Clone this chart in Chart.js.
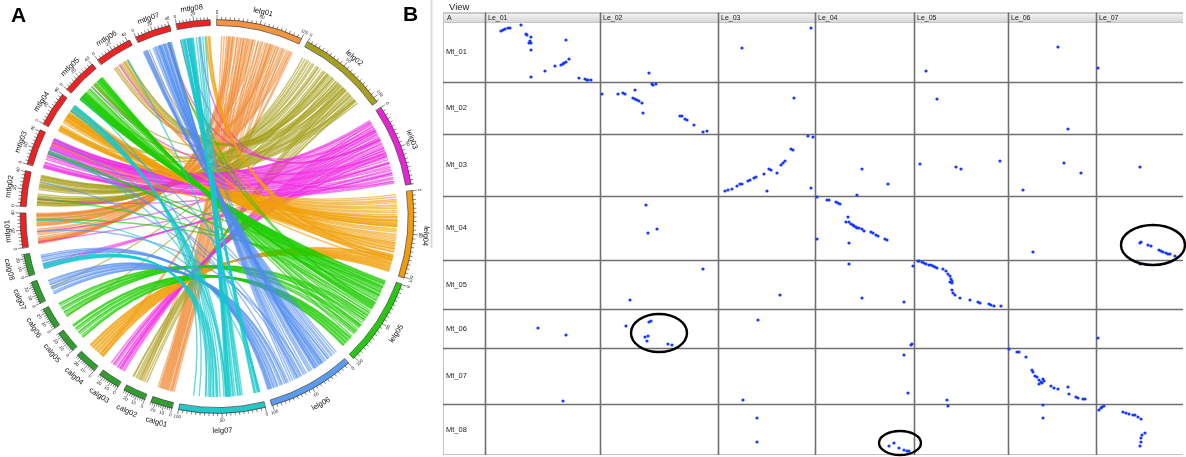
<!DOCTYPE html>
<html>
<head>
<meta charset="utf-8">
<script src="https://cdn.jsdelivr.net/npm/chart.js@4.4.1/dist/chart.umd.min.js"></script>
<style>
  html, body { margin: 0; padding: 0; background: #fff; }
  #wrap { position: relative; width: 1186px; height: 457px; overflow: hidden; }
  #panelA { position: absolute; left: 0; top: 0; width: 430px; height: 457px; }
  #panelB { position: absolute; left: 430px; top: 0; width: 756px; height: 457px; }
</style>
</head>
<body>
<div id="wrap">
  <div id="panelA"><canvas id="circos"></canvas></div>
  <div id="panelB"><canvas id="dotplot"></canvas></div>
</div>
<script>
/* -----------------------------------------------------
   PANEL A DATA : karyotype (clockwise from 12 o'clock)
----------------------------------------------------- */
const chrNames = [
  "lelg01", "lelg02", "lelg03", "lelg04", "lelg05", "lelg06", "lelg07",
  "calg01", "calg02", "calg03", "calg04", "calg05", "calg06", "calg07", "calg08",
  "mtlg01", "mtlg02", "mtlg03", "mtlg04", "mtlg05", "mtlg06", "mtlg07", "mtlg08"
];
const chrLengths = [
  100, 106, 95, 101, 102, 101, 100,
  25, 26, 25, 26, 25, 25, 26, 25,
  40, 41, 42, 40, 41, 43, 41, 39
];

// links: [position on lelg, target chromosome, position on target]
const linksLelg01 = [
  [14, "mtlg01", 4], [17, "mtlg01", 5], [20, "mtlg01", 5], [22, "mtlg01", 4], [31, "mtlg01", 2],
  [36, "mtlg01", 8], [38, "mtlg01", 10], [40, "mtlg01", 13], [41, "mtlg01", 18], [52, "mtlg01", 33],
  [61, "mtlg01", 29], [66, "mtlg01", 27], [68, "mtlg01", 26], [70, "mtlg01", 25], [73, "mtlg01", 24],
  [82, "mtlg01", 37], [87, "mtlg01", 38], [90, "mtlg01", 38], [92, "mtlg01", 39],
  [16, "mtlg01", 6], [19, "mtlg01", 3], [26, "mtlg01", 3], [34, "mtlg01", 7], [43, "mtlg01", 15],
  [45, "mtlg01", 20], [57, "mtlg01", 31], [64, "mtlg01", 28], [76, "mtlg01", 35], [79, "mtlg01", 36],
  [84, "mtlg01", 37], [94, "mtlg01", 40],
  [6, "calg01", 23], [9, "calg01", 21], [12, "calg01", 20], [25, "calg01", 17], [28, "calg01", 16],
  [45, "calg01", 13], [48, "calg01", 12], [55, "calg01", 10], [58, "calg01", 9], [63, "calg01", 7],
  [75, "calg01", 5], [78, "calg01", 4], [85, "calg01", 2],
  [15, "calg01", 19], [20, "calg01", 18], [33, "calg01", 15], [38, "calg01", 14], [52, "calg01", 11],
  [68, "calg01", 6],
  [95, "calg04", 3], [97, "calg04", 6], [46, "mtlg06", 12], [71, "mtlg06", 17], [68, "mtlg07", 35],
  [30, "calg02", 10], [34, "calg02", 14]
];
const linksLelg02 = [
  [4, "mtlg02", 2], [10, "mtlg02", 4], [15, "mtlg02", 6], [20, "mtlg02", 7], [24, "mtlg02", 9],
  [30, "mtlg02", 10], [34, "mtlg02", 12], [40, "mtlg02", 14], [55, "mtlg02", 22], [58, "mtlg02", 24],
  [62, "mtlg02", 26], [66, "mtlg02", 27], [70, "mtlg02", 29], [72, "mtlg02", 31], [75, "mtlg02", 33],
  [78, "mtlg02", 34], [82, "mtlg02", 36], [86, "mtlg02", 38], [90, "mtlg02", 39], [93, "mtlg02", 40],
  [7, "mtlg02", 3], [12, "mtlg02", 5], [18, "mtlg02", 6], [27, "mtlg02", 9], [37, "mtlg02", 13],
  [44, "mtlg02", 16], [60, "mtlg02", 25], [68, "mtlg02", 28], [80, "mtlg02", 35], [88, "mtlg02", 38],
  [46, "mtlg06", 10], [48, "mtlg06", 14], [60, "mtlg06", 20], [63, "mtlg06", 25], [68, "mtlg06", 30],
  [50, "mtlg06", 22], [55, "mtlg06", 27], [58, "mtlg06", 29],
  [64, "calg02", 5], [67, "calg02", 8], [70, "calg02", 12], [80, "calg02", 16], [84, "calg02", 20],
  [88, "calg02", 23], [72, "calg02", 14], [76, "calg02", 18], [90, "calg02", 24],
  [52, "calg06", 3], [36, "calg07", 12],
  [42, "mtlg01", 33], [40, "mtlg04", 6], [42, "mtlg04", 25], [49, "mtlg04", 22], [26, "mtlg05", 26],
  [88, "mtlg05", 6]
];
const linksLelg03 = [
  [6, "mtlg03", 40], [9, "mtlg03", 39], [12, "mtlg03", 38], [17, "mtlg03", 36], [20, "mtlg03", 35],
  [25, "mtlg03", 34], [28, "mtlg03", 33], [33, "mtlg03", 31], [36, "mtlg03", 30], [41, "mtlg03", 28],
  [45, "mtlg03", 26], [48, "mtlg03", 25], [53, "mtlg03", 21], [57, "mtlg03", 20], [60, "mtlg03", 19],
  [63, "mtlg03", 17], [68, "mtlg03", 14], [70, "mtlg03", 12], [74, "mtlg03", 8], [80, "mtlg03", 5],
  [85, "mtlg03", 3], [90, "mtlg03", 1],
  [8, "mtlg03", 39], [15, "mtlg03", 37], [23, "mtlg03", 34], [31, "mtlg03", 32], [39, "mtlg03", 29],
  [43, "mtlg03", 27], [51, "mtlg03", 23], [55, "mtlg03", 20], [65, "mtlg03", 16], [77, "mtlg03", 7],
  [83, "mtlg03", 4], [88, "mtlg03", 2],
  [10, "calg03", 3], [14, "calg03", 5], [22, "calg03", 8], [30, "calg03", 10], [38, "calg03", 13],
  [44, "calg03", 16], [50, "calg03", 19], [55, "calg03", 22], [18, "calg03", 7], [26, "calg03", 9],
  [34, "calg03", 12], [47, "calg03", 18],
  [64, "calg08", 3], [72, "calg08", 6], [78, "calg08", 9], [88, "mtlg06", 18],
  [20, "mtlg01", 17], [78, "mtlg01", 4], [65, "mtlg02", 10], [52, "mtlg05", 23], [21, "mtlg07", 35],
  [33, "mtlg08", 9], [34, "mtlg08", 25]
];
const linksLelg04 = [
  [2, "mtlg04", 1], [8, "mtlg04", 3], [12, "mtlg04", 4], [15, "mtlg04", 5], [19, "mtlg04", 6],
  [22, "mtlg04", 7], [27, "mtlg04", 13], [29, "mtlg04", 16], [31, "mtlg04", 17], [33, "mtlg04", 18],
  [35, "mtlg04", 19], [37, "mtlg04", 20], [39, "mtlg04", 21], [42, "mtlg04", 22], [45, "mtlg04", 23],
  [49, "mtlg04", 24], [52, "mtlg04", 25], [56, "mtlg04", 26], [60, "mtlg04", 28], [63, "mtlg04", 30],
  [66, "mtlg04", 31], [70, "mtlg04", 33], [74, "mtlg04", 35], [78, "mtlg04", 37],
  [5, "mtlg04", 2], [10, "mtlg04", 3], [17, "mtlg04", 6], [24, "mtlg04", 9], [30, "mtlg04", 15],
  [34, "mtlg04", 18], [38, "mtlg04", 21], [41, "mtlg04", 22], [47, "mtlg04", 23], [54, "mtlg04", 26],
  [58, "mtlg04", 27], [64, "mtlg04", 30], [68, "mtlg04", 32], [72, "mtlg04", 34],
  [80, "calg04", 2], [82, "calg04", 4], [84, "calg04", 6], [86, "calg04", 8], [88, "calg04", 10],
  [90, "calg04", 12], [91, "calg04", 14], [93, "calg04", 16], [94, "calg04", 18], [96, "calg04", 20],
  [97, "calg04", 22], [99, "calg04", 24], [81, "calg04", 3], [85, "calg04", 7], [89, "calg04", 11],
  [92, "calg04", 15], [95, "calg04", 19], [98, "calg04", 23],
  [66, "mtlg08", 33], [70, "mtlg08", 34], [74, "mtlg08", 36], [78, "mtlg08", 37], [80, "mtlg08", 38],
  [40, "mtlg03", 22], [62, "mtlg03", 33], [35, "mtlg05", 3], [42, "mtlg05", 27], [80, "mtlg05", 29],
  [88, "mtlg05", 4], [83, "mtlg06", 24], [84, "mtlg06", 25], [80, "mtlg07", 6], [83, "mtlg07", 33]
];
const linksLelg05 = [
  [3, "mtlg05", 1], [5, "mtlg05", 2], [8, "mtlg05", 3], [10, "mtlg05", 4], [12, "mtlg05", 5],
  [15, "mtlg05", 6], [17, "mtlg05", 7], [19, "mtlg05", 8], [21, "mtlg05", 9], [23, "mtlg05", 10],
  [27, "mtlg05", 11], [30, "mtlg05", 12], [33, "mtlg05", 14], [35, "mtlg05", 16], [37, "mtlg05", 19],
  [38, "mtlg05", 22], [39, "mtlg05", 26], [41, "mtlg05", 29], [45, "mtlg05", 31], [52, "mtlg05", 33],
  [58, "mtlg05", 35], [63, "mtlg05", 36], [68, "mtlg05", 37], [73, "mtlg05", 38], [78, "mtlg05", 39],
  [84, "mtlg05", 40],
  [4, "mtlg05", 1], [7, "mtlg05", 2], [11, "mtlg05", 4], [14, "mtlg05", 5], [18, "mtlg05", 7],
  [22, "mtlg05", 9], [25, "mtlg05", 10], [29, "mtlg05", 12], [36, "mtlg05", 18], [40, "mtlg05", 28],
  [48, "mtlg05", 32], [55, "mtlg05", 34], [66, "mtlg05", 36], [76, "mtlg05", 38],
  [86, "calg05", 3], [88, "calg05", 6], [90, "calg05", 9], [92, "calg05", 12], [94, "calg05", 15],
  [96, "calg05", 18], [98, "calg05", 21], [100, "calg05", 23], [87, "calg05", 4], [91, "calg05", 11],
  [95, "calg05", 17], [99, "calg05", 22],
  [50, "calg06", 4], [55, "calg06", 7], [60, "calg06", 10], [66, "calg06", 13], [70, "calg06", 16],
  [75, "calg06", 19], [80, "calg06", 22], [52, "calg06", 5], [58, "calg06", 9], [68, "calg06", 15],
  [78, "calg06", 21],
  [12, "mtlg01", 32], [23, "mtlg02", 11], [6, "mtlg03", 19], [42, "mtlg03", 21], [47, "mtlg03", 23],
  [33, "mtlg07", 35], [34, "mtlg08", 1]
];
const linksLelg06 = [
  [2, "mtlg07", 1], [8, "mtlg07", 3], [10, "mtlg07", 4], [16, "mtlg07", 6], [21, "mtlg07", 14],
  [23, "mtlg07", 16], [25, "mtlg07", 18], [27, "mtlg07", 20], [29, "mtlg07", 22], [31, "mtlg07", 23],
  [33, "mtlg07", 24], [37, "mtlg07", 26], [40, "mtlg07", 28], [44, "mtlg07", 29], [52, "mtlg07", 31],
  [55, "mtlg07", 33], [60, "mtlg07", 35], [64, "mtlg07", 36], [67, "mtlg07", 37], [70, "mtlg07", 38],
  [5, "mtlg07", 2], [13, "mtlg07", 5], [19, "mtlg07", 9], [24, "mtlg07", 17], [28, "mtlg07", 21],
  [32, "mtlg07", 23], [35, "mtlg07", 25], [42, "mtlg07", 28], [48, "mtlg07", 30], [58, "mtlg07", 34],
  [62, "mtlg07", 35],
  [75, "calg07", 3], [78, "calg07", 6], [81, "calg07", 9], [84, "calg07", 12], [87, "calg07", 15],
  [90, "calg07", 18], [93, "calg07", 21], [76, "calg07", 4], [82, "calg07", 10], [88, "calg07", 16],
  [92, "calg07", 20],
  [95, "calg08", 12], [97, "calg08", 15], [99, "calg08", 18], [96, "calg08", 13], [98, "calg08", 17],
  [100, "calg08", 20],
  [50, "mtlg01", 17], [60, "mtlg02", 31], [15, "mtlg03", 38], [56, "mtlg03", 20], [73, "mtlg03", 26],
  [25, "mtlg04", 37], [35, "mtlg08", 1], [35, "mtlg08", 9]
];
const linksLelg07 = [
  [3, "mtlg08", 4], [5, "mtlg08", 5], [7, "mtlg08", 6], [9, "mtlg08", 7], [24, "mtlg08", 10],
  [27, "mtlg08", 11], [30, "mtlg08", 12], [33, "mtlg08", 13], [35, "mtlg08", 14], [38, "mtlg08", 15],
  [41, "mtlg08", 17], [44, "mtlg08", 24], [42, "mtlg08", 26], [41, "mtlg08", 29], [40, "mtlg08", 32],
  [4, "mtlg08", 3], [8, "mtlg08", 6], [26, "mtlg08", 10], [29, "mtlg08", 12], [36, "mtlg08", 14],
  [39, "mtlg08", 16], [43, "mtlg08", 21],
  [55, "calg08", 3], [60, "calg08", 5], [65, "calg08", 7], [70, "calg08", 9], [57, "calg08", 4],
  [62, "calg08", 6], [67, "calg08", 8],
  [45, "mtlg04", 30], [47, "mtlg04", 31], [52, "mtlg04", 32], [56, "mtlg04", 34], [60, "mtlg04", 35],
  [64, "mtlg04", 36], [70, "mtlg04", 37], [78, "mtlg04", 38], [85, "mtlg04", 39],
  [2, "mtlg01", 31], [44, "mtlg03", 22], [44, "mtlg05", 3], [2, "mtlg06", 30]
];

/* -----------------------------------------------------
   PANEL B DATA : dot plot (Le on x, Mt on y)
----------------------------------------------------- */
const leNames = ["Le_01", "Le_02", "Le_03", "Le_04", "Le_05", "Le_06", "Le_07"];
const leLengths = [115, 118, 97, 99, 94, 88, 87];
const mtNames = ["Mt_01", "Mt_02", "Mt_03", "Mt_04", "Mt_05", "Mt_06", "Mt_07", "Mt_08"];
const mtLengths = [60, 52, 62, 64, 49, 39, 56, 51];

// [Le chromosome number, position on Le, position on Mt]
const mt01Dots = [
  [1, 16, 9], [1, 18, 8], [1, 20, 7], [1, 23, 6], [1, 25, 6], [1, 36, 3], [1, 41, 12], [1, 42, 13],
  [1, 46, 15], [1, 45, 19], [1, 44, 21], [1, 46, 21], [1, 46, 28], [1, 81, 18], [1, 84, 37], [1, 81, 40],
  [1, 79, 41], [1, 78, 42], [1, 76, 43], [1, 70, 44], [1, 60, 49], [1, 46, 55], [1, 94, 56], [1, 100, 57],
  [1, 102, 58], [1, 103, 58], [1, 106, 58],
  [2, 49, 51], [3, 24, 26], [3, 93, 6], [5, 12, 49], [6, 50, 25], [7, 2, 46]
];
const mt02Dots = [
  [2, 52, 2], [2, 53, 3], [2, 56, 2], [2, 2, 12], [2, 18, 12], [2, 23, 11], [2, 25, 12], [2, 35, 8],
  [2, 33, 16], [2, 35, 17], [2, 37, 18], [2, 39, 19], [2, 42, 21], [2, 43, 31], [2, 80, 34], [2, 82, 34],
  [2, 85, 37], [2, 87, 38], [2, 94, 43], [2, 103, 50], [2, 107, 49],
  [3, 76, 16], [5, 23, 17], [6, 60, 47]
];
const mt03Dots = [
  [3, 90, 2], [3, 95, 3], [3, 73, 15], [3, 75, 16], [3, 67, 27], [3, 65, 29], [3, 63, 31], [3, 59, 39],
  [3, 51, 35], [3, 53, 36], [3, 46, 40], [3, 38, 43], [3, 36, 44], [3, 32, 46], [3, 30, 47], [3, 24, 50],
  [3, 22, 50], [3, 19, 52], [3, 14, 55], [3, 10, 56], [3, 7, 57], [3, 49, 57], [3, 93, 54],
  [4, 47, 35], [4, 73, 50], [4, 42, 61],
  [5, 6, 30], [5, 42, 33], [5, 47, 35], [5, 86, 27],
  [6, 15, 56], [6, 56, 29], [6, 73, 39], [7, 44, 33]
];
const mt04Dots = [
  [2, 46, 9], [2, 48, 37], [2, 57, 33],
  [4, 2, 1], [4, 12, 4], [4, 14, 4], [4, 21, 6], [4, 23, 7], [4, 25, 8], [4, 33, 21], [4, 31, 26],
  [4, 34, 26], [4, 36, 28], [4, 38, 29], [4, 39, 30], [4, 41, 31], [4, 42, 32], [4, 44, 32], [4, 47, 33],
  [4, 49, 35], [4, 56, 36], [4, 58, 37], [4, 61, 39], [4, 63, 40], [4, 70, 43], [4, 72, 44], [4, 2, 43],
  [4, 34, 47],
  [6, 25, 56],
  [7, 44, 47], [7, 45, 46], [7, 52, 49], [7, 55, 50], [7, 63, 54], [7, 65, 55], [7, 67, 56], [7, 70, 57],
  [7, 72, 58], [7, 74, 58], [7, 79, 60]
];
const mt05Dots = [
  [2, 103, 9], [2, 30, 40], [3, 62, 35],
  [4, 34, 4], [4, 47, 38], [4, 89, 42], [4, 98, 6],
  [5, 4, 1], [5, 5, 1], [5, 8, 2], [5, 10, 3], [5, 12, 4], [5, 15, 5], [5, 17, 5], [5, 19, 6],
  [5, 21, 7], [5, 23, 8], [5, 29, 9], [5, 32, 11], [5, 34, 14], [5, 36, 16], [5, 37, 19], [5, 38, 21],
  [5, 36, 22], [5, 38, 23], [5, 38, 30], [5, 39, 33], [5, 41, 35], [5, 46, 38], [5, 56, 40], [5, 64, 42],
  [5, 66, 43], [5, 75, 44], [5, 77, 45], [5, 80, 46], [5, 87, 46],
  [7, 44, 4]
];
const mt06Dots = [
  [1, 53, 19], [1, 81, 26],
  [2, 26, 17], [2, 49, 13], [2, 51, 12], [2, 45, 28], [2, 48, 27], [2, 47, 32], [2, 68, 35], [2, 72, 36],
  [3, 40, 11], [4, 97, 35], [4, 96, 36], [7, 2, 29]
];
const mt07Dots = [
  [1, 78, 53], [3, 25, 52], [4, 89, 7], [4, 93, 45], [5, 33, 52],
  [6, 1, 1], [6, 9, 4], [6, 11, 4], [6, 18, 9], [6, 24, 22], [6, 25, 24], [6, 27, 28], [6, 29, 29],
  [6, 31, 32], [6, 33, 34], [6, 35, 31], [6, 34, 35], [6, 31, 36], [6, 36, 33], [6, 43, 38], [6, 46, 40],
  [6, 50, 41], [6, 60, 39], [6, 61, 46], [6, 68, 49], [6, 70, 50], [6, 75, 51], [6, 77, 51]
];
const mt08Dots = [
  [3, 39, 14], [3, 39, 38],
  [4, 74, 42], [4, 79, 39], [4, 84, 44], [4, 89, 46], [4, 92, 47], [4, 94, 47],
  [5, 34, 2], [6, 35, 1], [6, 35, 14],
  [7, 3, 6], [7, 5, 4], [7, 6, 3], [7, 8, 2], [7, 27, 8], [7, 30, 9], [7, 33, 10], [7, 37, 11],
  [7, 39, 11], [7, 42, 13], [7, 45, 15], [7, 49, 29], [7, 46, 31], [7, 45, 34], [7, 45, 38], [7, 44, 42]
];

// circled regions: [Le chromosome, Le position, Mt chromosome, Mt position, half width, half height]
const circledRegions = [
  [7, 57, 4, 49, 32, 20],
  [2, 59, 6, 24, 28, 19],
  [4, 85, 8, 39, 21, 12]
];

/* -----------------------------------------------------
   STYLE
----------------------------------------------------- */
const chrColors = {
  lelg01: "#f5943e", lelg02: "#a89f1f", lelg03: "#e822d6", lelg04: "#f39c0a",
  lelg05: "#25c90e", lelg06: "#5c9cf0", lelg07: "#22c9c9"
};
const linkColors = {
  lelg01: "rgba(240,140,55,0.6)", lelg02: "rgba(165,158,25,0.6)", lelg03: "rgba(240,40,225,0.6)",
  lelg04: "rgba(240,160,10,0.62)", lelg05: "rgba(30,205,0,0.64)", lelg06: "rgba(80,140,240,0.58)",
  lelg07: "rgba(20,200,205,0.66)"
};
const ringColorFor = name =>
  chrColors[name] || (name.startsWith("calg") ? "#2f9e2f" : "#ee2222");

const GAP_DEG = 2;
const R_LINK = 0.928, R_IN = 0.985, R_OUT = 1.015;
const CX = 217, CY = 216.5, R_PX = 194, A_W = 430, A_H = 457;
const FONT = "'Liberation Sans', Arial, sans-serif";

const totalLen = chrLengths.reduce((a, b) => a + b, 0);
const degPerUnit = (360 - GAP_DEG * chrNames.length) / totalLen;
const chrStart = {};
const chrLen = {};
let acc = 0;
chrNames.forEach((n, i) => {
  chrStart[n] = acc;
  chrLen[n] = chrLengths[i];
  acc += chrLengths[i] * degPerUnit + GAP_DEG;
});
const angleOf = (name, pos) => chrStart[name] + pos * degPerUnit;

function tickSpec(name) {
  if (name.startsWith("lelg")) return { minor: 5, major: 50 };
  if (name.startsWith("mtlg")) return { minor: 4, major: 20 };
  return { minor: 2.5, major: 10 };
}

/* -----------------------------------------------------
   CIRCOS PLUGIN
----------------------------------------------------- */
const circosPlugin = {
  id: "circos",
  afterDraw(chart) {
    const { ctx, scales: { x, y } } = chart;
    const pt = (deg, r) => {
      const a = deg * Math.PI / 180;
      return [x.getPixelForValue(r * Math.sin(a)), y.getPixelForValue(r * Math.cos(a))];
    };
    const [cx, cy] = pt(0, 0);
    const unitPx = x.getPixelForValue(1) - x.getPixelForValue(0);
    const canvasAng = deg => (deg - 90) * Math.PI / 180;

    ctx.save();

    // links
    const linkSets = [
      ["lelg01", linksLelg01], ["lelg02", linksLelg02], ["lelg03", linksLelg03],
      ["lelg04", linksLelg04], ["lelg05", linksLelg05], ["lelg06", linksLelg06],
      ["lelg07", linksLelg07]
    ];
    ctx.lineWidth = 1.4;
    ctx.lineCap = "round";
    linkSets.forEach(([src, links]) => {
      ctx.strokeStyle = linkColors[src];
      links.forEach(([p, tgt, tp]) => {
        const a = pt(angleOf(src, p), R_LINK);
        const b = pt(angleOf(tgt, tp), R_LINK);
        ctx.beginPath();
        ctx.moveTo(a[0], a[1]);
        ctx.quadraticCurveTo(cx, cy, b[0], b[1]);
        ctx.stroke();
      });
    });

    // ideograms, ticks, labels
    chrNames.forEach(name => {
      const a0 = chrStart[name];
      const a1 = angleOf(name, chrLen[name]);
      ctx.beginPath();
      ctx.arc(cx, cy, R_OUT * unitPx, canvasAng(a0), canvasAng(a1));
      ctx.arc(cx, cy, R_IN * unitPx, canvasAng(a1), canvasAng(a0), true);
      ctx.closePath();
      ctx.fillStyle = ringColorFor(name);
      ctx.fill();
      ctx.strokeStyle = "#3a3a3a";
      ctx.lineWidth = 0.7;
      ctx.stroke();

      const { minor, major } = tickSpec(name);
      ctx.strokeStyle = "#333";
      ctx.lineWidth = 0.6;
      for (let k = 0; k * minor <= chrLen[name] + 1e-6; k++) {
        const v = k * minor;
        const isMajor = Math.abs(v / major - Math.round(v / major)) < 1e-6;
        const ang = angleOf(name, v);
        const p0 = pt(ang, R_OUT);
        const p1 = pt(ang, R_OUT + (isMajor ? 0.022 : 0.012));
        ctx.beginPath();
        ctx.moveTo(p0[0], p0[1]);
        ctx.lineTo(p1[0], p1[1]);
        ctx.stroke();
        if (isMajor) {
          const flip = ang > 100 && ang < 260;
          const lp = pt(ang, 1.052);
          ctx.save();
          ctx.translate(lp[0], lp[1]);
          ctx.rotate((flip ? ang - 180 : ang) * Math.PI / 180);
          ctx.fillStyle = "#222";
          ctx.font = "4.5px " + FONT;
          ctx.textAlign = "center";
          ctx.textBaseline = "middle";
          ctx.fillText(String(v), 0, 0);
          ctx.restore();
        }
      }

      const mid = (a0 + a1) / 2;
      const flip = mid > 100 && mid < 260;
      const np = pt(mid, flip ? 1.105 : 1.08);
      ctx.save();
      ctx.translate(np[0], np[1]);
      ctx.rotate((flip ? mid - 180 : mid) * Math.PI / 180);
      ctx.fillStyle = "#111";
      ctx.font = "7.5px " + FONT;
      ctx.textAlign = "center";
      ctx.textBaseline = "middle";
      ctx.fillText(name, 0, 0);
      ctx.restore();
    });

    // panel letters
    ctx.fillStyle = "#000";
    ctx.font = "bold 21px " + FONT;
    ctx.textAlign = "left";
    ctx.textBaseline = "alphabetic";
    ctx.fillText("A", 11, 22);
    ctx.fillText("B", 403, 21);
    ctx.restore();
  }
};

new Chart(document.getElementById("circos").getContext("2d"), {
  type: "scatter",
  data: { datasets: [] },
  options: {
    responsive: true,
    maintainAspectRatio: false,
    animation: false,
    layout: { padding: 0 },
    plugins: { legend: { display: false }, tooltip: { enabled: false } },
    scales: {
      x: { type: "linear", display: false, min: -CX / R_PX, max: (A_W - CX) / R_PX },
      y: { type: "linear", display: false, min: -(A_H - CY) / R_PX, max: CY / R_PX }
    }
  },
  plugins: [circosPlugin]
});

/* -----------------------------------------------------
   DOT PLOT
----------------------------------------------------- */
const cumulative = arr => arr.reduce((o, v, i) => (o.push(i ? o[i - 1] + arr[i - 1] : 0), o), []);
const leOffsets = cumulative(leLengths);
const mtOffsets = cumulative(mtLengths);
const leTotal = leLengths.reduce((a, b) => a + b, 0);
const mtTotal = mtLengths.reduce((a, b) => a + b, 0);

const dotRows = [mt01Dots, mt02Dots, mt03Dots, mt04Dots, mt05Dots, mt06Dots, mt07Dots, mt08Dots];
const dotPoints = [];
dotRows.forEach((row, mi) => {
  row.forEach(([le, lp, mp]) => {
    dotPoints.push({ x: leOffsets[le - 1] + lp, y: mtOffsets[mi] + mp });
  });
});

const gridPlugin = {
  id: "dotgrid",
  beforeDatasetsDraw(chart) {
    const { ctx, chartArea: a, scales: { x, y } } = chart;
    const tableLeft = a.left - 42;
    const headTop = a.top - 9.5;

    ctx.save();
    // window edge
    ctx.strokeStyle = "#dadada";
    ctx.lineWidth = 2;
    ctx.beginPath();
    ctx.moveTo(1.5, 0);
    ctx.lineTo(1.5, 248);
    ctx.stroke();

    ctx.fillStyle = "#222";
    ctx.font = "9.5px " + FONT;
    ctx.textBaseline = "alphabetic";
    ctx.fillText("View", tableLeft + 6, 10);

    // header band
    const g = ctx.createLinearGradient(0, headTop, 0, a.top);
    g.addColorStop(0, "#f6f6f6");
    g.addColorStop(1, "#d8d8d8");
    ctx.fillStyle = g;
    ctx.fillRect(tableLeft, headTop, a.right - tableLeft, a.top - headTop);
    ctx.strokeStyle = "#9a9a9a";
    ctx.lineWidth = 1;
    ctx.beginPath();
    ctx.moveTo(tableLeft, headTop + 0.5);
    ctx.lineTo(a.right, headTop + 0.5);
    ctx.stroke();
    ctx.strokeStyle = "#c4c4c4";
    ctx.beginPath();
    ctx.moveTo(tableLeft, a.top + 0.5);
    ctx.lineTo(a.right, a.top + 0.5);
    ctx.moveTo(tableLeft + 0.5, headTop);
    ctx.lineTo(tableLeft + 0.5, a.bottom);
    ctx.moveTo(tableLeft, a.bottom - 0.5);
    ctx.lineTo(a.right, a.bottom - 0.5);
    ctx.stroke();

    ctx.fillStyle = "#222";
    ctx.font = "7px " + FONT;
    ctx.fillText("A", tableLeft + 4, a.top - 2);
    leNames.forEach((n, i) => {
      ctx.fillText(n, x.getPixelForValue(leOffsets[i]) + 3, a.top - 2);
    });

    // row labels
    ctx.font = "7.5px " + FONT;
    ctx.textBaseline = "middle";
    mtNames.forEach((n, i) => {
      const yc = (y.getPixelForValue(mtOffsets[i]) + y.getPixelForValue(mtOffsets[i] + mtLengths[i])) / 2;
      ctx.fillText(n, tableLeft + 3, yc);
    });

    // chromosome boundaries
    ctx.strokeStyle = "#707070";
    ctx.lineWidth = 1.6;
    ctx.beginPath();
    leOffsets.forEach(off => {
      const px = Math.round(x.getPixelForValue(off)) + 0.5;
      ctx.moveTo(px, headTop);
      ctx.lineTo(px, a.bottom);
    });
    mtOffsets.slice(1).forEach(off => {
      const py = Math.round(y.getPixelForValue(off)) + 0.5;
      ctx.moveTo(tableLeft, py);
      ctx.lineTo(a.right, py);
    });
    ctx.stroke();
    ctx.restore();
  },
  afterDatasetsDraw(chart) {
    const { ctx, scales: { x, y } } = chart;
    ctx.save();
    ctx.strokeStyle = "#000";
    ctx.lineWidth = 2.4;
    circledRegions.forEach(([le, lp, mt, mp, hw, hh]) => {
      const cx = x.getPixelForValue(leOffsets[le - 1] + lp);
      const cy = y.getPixelForValue(mtOffsets[mt - 1] + mp);
      const rx = x.getPixelForValue(leOffsets[le - 1] + lp + hw) - cx;
      const ry = y.getPixelForValue(mtOffsets[mt - 1] + mp + hh) - cy;
      ctx.beginPath();
      ctx.ellipse(cx, cy, Math.abs(rx), Math.abs(ry), 0, 0, Math.PI * 2);
      ctx.stroke();
    });
    ctx.restore();
  }
};

new Chart(document.getElementById("dotplot").getContext("2d"), {
  type: "scatter",
  data: {
    datasets: [{
      data: dotPoints,
      pointRadius: 1.6,
      pointHoverRadius: 1.6,
      pointStyle: "circle",
      backgroundColor: "#1438ff",
      borderWidth: 0
    }]
  },
  options: {
    responsive: true,
    maintainAspectRatio: false,
    animation: false,
    layout: { padding: { left: 55, right: 3, top: 22, bottom: 2 } },
    plugins: { legend: { display: false }, tooltip: { enabled: false } },
    scales: {
      x: { type: "linear", display: false, min: 0, max: leTotal },
      y: { type: "linear", display: false, min: 0, max: mtTotal, reverse: true }
    }
  },
  plugins: [gridPlugin]
});
</script>
</body>
</html>
